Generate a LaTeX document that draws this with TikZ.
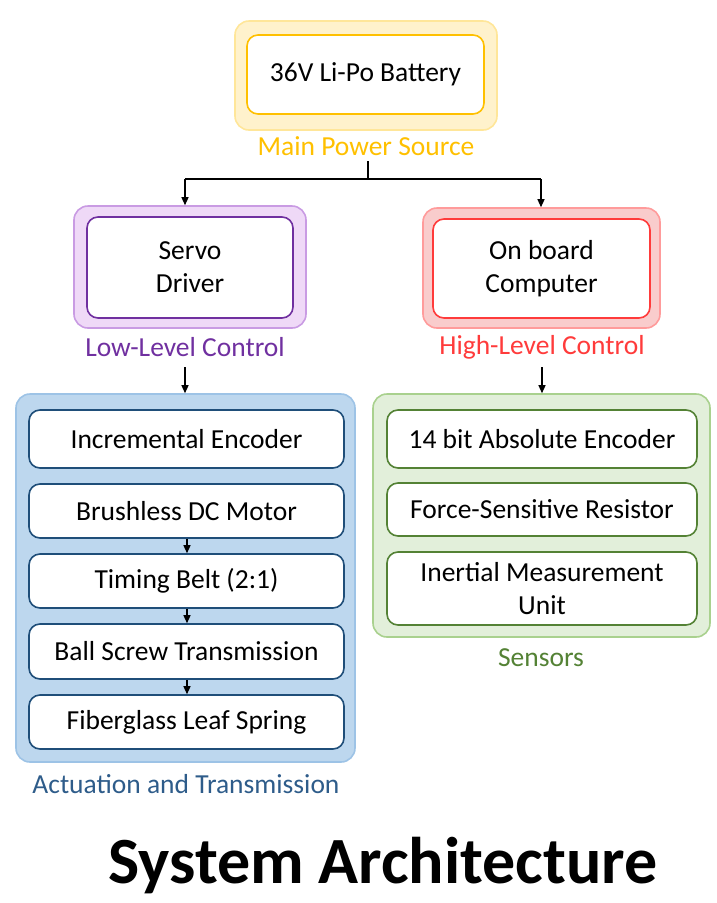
\documentclass[tikz,border=0pt]{standalone}
\usepackage{fontspec}
\setmainfont{Carlito}
\usetikzlibrary{arrows.meta}

\definecolor{yelFill}{HTML}{FFF2CC}
\definecolor{yelEdge}{HTML}{FFE699}
\definecolor{yelDark}{HTML}{FFC000}
\definecolor{purFill}{HTML}{EFD9F7}
\definecolor{purEdge}{HTML}{C99BE3}
\definecolor{purDark}{HTML}{7030A0}
\definecolor{redFill}{HTML}{F9CCCC}
\definecolor{redEdge}{HTML}{FF9B9B}
\definecolor{redDark}{HTML}{FF3B3B}
\definecolor{bluFill}{HTML}{BDD7EE}
\definecolor{bluEdge}{HTML}{9DC3E6}
\definecolor{bluDark}{HTML}{1F4E79}
\definecolor{bluText}{HTML}{2E5C8A}
\definecolor{grnFill}{HTML}{E2EFDA}
\definecolor{grnEdge}{HTML}{A9D18E}
\definecolor{grnDark}{HTML}{548235}

\tikzset{
  group/.style={rounded corners=14pt, line width=1.6pt, inner sep=0pt},
  item/.style={rounded corners=11pt, line width=1.6pt, fill=white, align=center,
    inner sep=0pt, font=\fontsize{27.5}{33}\selectfont, text=black},
  caption/.style={font=\fontsize{27.5}{33}\selectfont, inner sep=0pt},
  arr/.style={line width=1.3pt, -{Triangle[length=8pt,width=7pt]}},
  wire/.style={line width=1.3pt},
}

\begin{document}
\begin{tikzpicture}[x=1pt,y=-1pt]
\useasboundingbox (0,0) rectangle (717,903);

% power source
\node[group, fill=yelFill, draw=yelEdge, minimum width=262pt, minimum height=109pt] (batg) at (366,75.5) {};
\node[item, draw=yelDark, minimum width=237pt, minimum height=79pt] (bat) at (365.5,74.5) {\raisebox{-2pt}{36V Li-Po Battery}};
\node[caption, text=yelDark] (batl) at (366,146) {Main Power Source};

% low-level control
\node[group, fill=purFill, draw=purEdge, minimum width=232pt, minimum height=122pt] (srvg) at (190,267) {};
\node[item, draw=purDark, minimum width=206pt, minimum height=101pt] (srv) at (190,267.5) {Servo\\Driver};
\node[caption, text=purDark] (srvl) at (185,347) {Low-Level Control};

% high-level control
\node[group, fill=redFill, draw=redEdge, minimum width=237pt, minimum height=120pt] (cmpg) at (541.5,268) {};
\node[item, draw=redDark, minimum width=217pt, minimum height=99pt] (cmp) at (541.5,268.5) {On board\\Computer};
\node[caption, text=redDark] (cmpl) at (542,347) {High-Level Control};

% actuation chain
\node[group, fill=bluFill, draw=bluEdge, minimum width=339pt, minimum height=368pt] (actg) at (185.5,578) {};
\node[item, draw=bluDark, minimum width=315pt, minimum height=58pt] (enc) at (186.5,439) {Incremental Encoder};
\node[item, draw=bluDark, minimum width=315pt, minimum height=54pt] (mot) at (186.5,511) {Brushless DC Motor};
\node[item, draw=bluDark, minimum width=315pt, minimum height=54pt] (belt) at (186.5,581) {Timing Belt (2:1)};
\node[item, draw=bluDark, minimum width=315pt, minimum height=55pt] (screw) at (186.5,651.5) {Ball Screw Transmission};
\node[item, draw=bluDark, minimum width=315pt, minimum height=54pt] (spring) at (186.5,722) {Fiberglass Leaf Spring};
\node[caption, text=bluText] (actl) at (186,784) {Actuation and Transmission};

% sensors
\node[group, fill=grnFill, draw=grnEdge, minimum width=337pt, minimum height=243pt] (seng) at (541.5,515.5) {};
\node[item, draw=grnDark, minimum width=310pt, minimum height=58pt] (abs) at (542,439) {14 bit Absolute Encoder};
\node[item, draw=grnDark, minimum width=310pt, minimum height=53pt] (fsr) at (542,509.5) {Force-Sensitive Resistor};
\node[item, draw=grnDark, minimum width=310pt, minimum height=73pt] (imu) at (542,588.5) {Inertial Measurement\\Unit};
\node[caption, text=grnDark] (senl) at (541,658) {Sensors};

% title
\node[inner sep=0pt, font=\fontsize{66}{70}\selectfont\bfseries] (title) at (383,866) {System Architecture};

% power distribution
\coordinate (split) at (368,179);
\coordinate (stub) at (368,161);
\coordinate (lt) at (185,179);
\coordinate (rt) at (541,179);
\draw[wire] (stub) -- (split);
\draw[wire] (lt) -- (rt);
\draw[arr] (lt) -- (lt |- srvg.north);
\draw[arr] (rt) -- (rt |- cmpg.north);

% control to subsystems
\draw[arr] (srvl.south |- 0,367) -- (srvl.south |- actg.north);
\draw[arr] (cmpl.south |- 0,367) -- (cmpl.south |- seng.north);

% mechanical chain
\draw[arr] (mot.south -| 187,0) -- (belt.north -| 187,0);
\draw[arr] (belt.south -| 187,0) -- (screw.north -| 187,0);
\draw[arr] (screw.south -| 187,0) -- (spring.north -| 187,0);
\end{tikzpicture}
\end{document}
